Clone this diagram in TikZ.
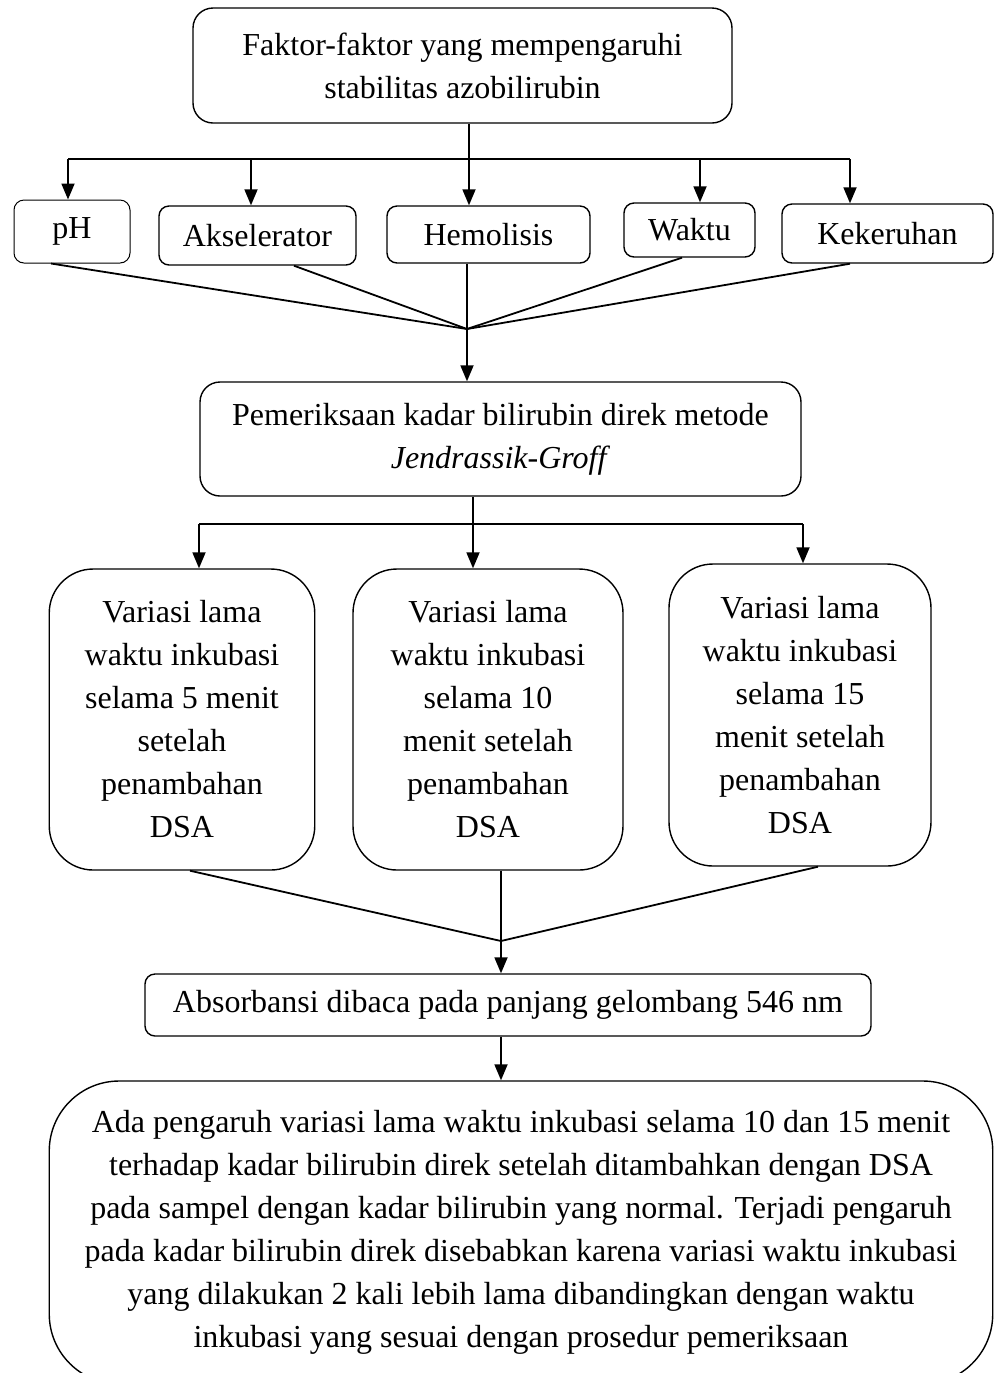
\documentclass[tikz,border=0pt]{standalone}
\usepackage{fontspec}
\setmainfont{Liberation Serif}
\usepackage{tikz}
\usetikzlibrary{arrows.meta,positioning,calc}

\begin{document}
\begin{tikzpicture}[x=0.5pt,y=-0.5pt,
        >={Triangle[length=8pt,width=6.5pt]},
        box/.style={draw,line width=0.7pt,align=center,inner sep=2pt,font=\fontsize{16}{21.5}\selectfont},
        conn/.style={line width=0.9pt}]
        \useasboundingbox (0,0) rectangle (995,1373);

        \node[box,rounded corners=10pt,minimum width=269.5pt,minimum height=57.5pt] (faktor) at (462.5,65.5) {Faktor-faktor yang mempengaruhi\\stabilitas azobilirubin};

        \node[box,line width=0.5pt,rounded corners=5pt,minimum width=58pt,minimum height=31.5pt] (ph) at (72,231.5) {pH};
        \node[box,rounded corners=5pt,minimum width=98.5pt,minimum height=29.5pt] (akselerator) at (257.5,235.5) {Akselerator};
        \node[box,rounded corners=5pt,minimum width=101.5pt,minimum height=28.5pt] (hemolisis) at (488.5,234.5) {Hemolisis};
        \node[box,rounded corners=5pt,minimum width=65.5pt,minimum height=27pt] (waktu) at (689.5,230) {Waktu};
        \node[box,rounded corners=5pt,minimum width=105.5pt,minimum height=29.5pt] (kekeruhan) at (887.5,233.5) {Kekeruhan};

        \coordinate (ka) at (68,159);
        \coordinate (kb) at (251,159);
        \coordinate (kc) at (469,159);
        \coordinate (kd) at (700,159);
        \coordinate (ke) at (850,159);
        \draw[conn] (ka) -- (ke);
        \draw[conn,->] (faktor.south -| kc) -- (kc |- hemolisis.north);
        \draw[conn,->] (ka) -- (ka |- ph.north);
        \draw[conn,->] (kb) -- (kb |- akselerator.north);
        \draw[conn,->] (kd) -- (kd |- waktu.north);
        \draw[conn,->] (ke) -- (ke |- kekeruhan.north);

        \node[box,rounded corners=10pt,minimum width=300.5pt,minimum height=57pt] (periksa) at (500.5,439) {Pemeriksaan kadar bilirubin direk metode\\\textit{Jendrassik-Groff}};

        \coordinate (jA) at (467,329);
        \draw[conn] (51,0 |- ph.south) -- (jA);
        \draw[conn] (294,0 |- akselerator.south) -- (jA);
        \draw[conn] (jA |- hemolisis.south) -- (jA);
        \draw[conn] (682,0 |- waktu.south) -- (jA);
        \draw[conn] (850,0 |- kekeruhan.south) -- (jA);
        \draw[conn,->] (jA) -- (jA |- periksa.north);

        \node[box,rounded corners=22pt,minimum width=132.75pt,minimum height=150.5pt] (var1) at (182,719.5) {Variasi lama\\waktu inkubasi\\selama 5 menit\\setelah\\penambahan\\DSA};
        \node[box,rounded corners=22pt,minimum width=135pt,minimum height=150.5pt] (var2) at (488,719.5) {Variasi lama\\waktu inkubasi\\selama 10\\menit setelah\\penambahan\\DSA};
        \node[box,rounded corners=22pt,minimum width=131pt,minimum height=151pt] (var3) at (800,715) {Variasi lama\\waktu inkubasi\\selama 15\\menit setelah\\penambahan\\DSA};

        \coordinate (la) at (199,524);
        \coordinate (lb) at (473,524);
        \coordinate (lc) at (803,524);
        \draw[conn] (la) -- (lc);
        \draw[conn] (periksa.south -| lb) -- (lb);
        \draw[conn,->] (la) -- (la |- var1.north);
        \draw[conn,->] (lb) -- (lb |- var2.north);
        \draw[conn,->] (lc) -- (lc |- var3.north);

        \node[box,rounded corners=5pt,minimum width=363pt,minimum height=31pt] (absorbansi) at (508,1005) {Absorbansi dibaca pada panjang gelombang 546 nm};

        \coordinate (jB) at (501,941);
        \draw[conn] (190,0 |- var1.south) -- (jB);
        \draw[conn] (jB |- var2.south) -- (jB);
        \draw[conn] (818,0 |- var3.south) -- (jB);
        \draw[conn,->] (jB) -- (jB |- absorbansi.north);

        \node[box,rounded corners=35pt,minimum width=471.75pt,minimum height=151.5pt] (hasil) at (521,1232.5) {Ada pengaruh variasi lama waktu inkubasi selama 10 dan 15 menit\\terhadap kadar bilirubin direk setelah ditambahkan dengan DSA\\pada sampel dengan kadar bilirubin yang normal. Terjadi pengaruh\\pada kadar bilirubin direk disebabkan karena variasi waktu inkubasi\\yang dilakukan 2 kali lebih lama dibandingkan dengan waktu\\inkubasi yang sesuai dengan prosedur pemeriksaan};

        \draw[conn,->] (jB |- absorbansi.south) -- (jB |- hasil.north);
    \end{tikzpicture}
\end{document}
